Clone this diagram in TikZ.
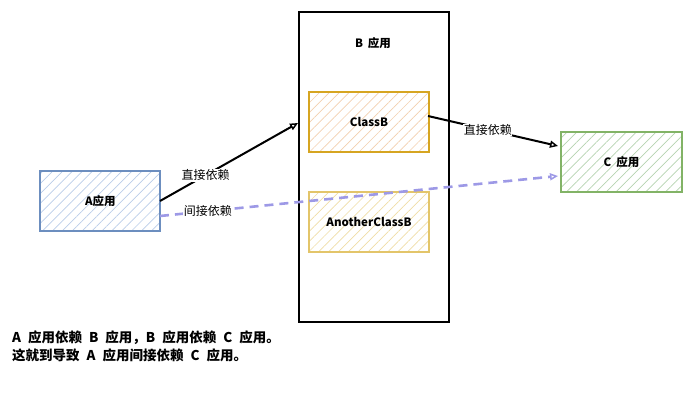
\documentclass[tikz,border=0pt]{standalone}
\usepackage{fontspec}
\setmainfont{Noto Sans CJK SC}
\usetikzlibrary{patterns.meta,arrows.meta}
\newcommand\gapx{\hspace{7pt}}
\tikzset{
  box/.style={draw, line width=2pt, minimum width=120pt, minimum height=60pt, inner sep=0pt, font=\bfseries\fontsize{11.5}{13}\selectfont},
  hatch/.style={pattern={Lines[angle=45,distance=7pt,line width=0.7pt]}, pattern color=#1},
  dep/.style={line width=2pt, -{Triangle[open,length=8pt,width=7pt,line width=1.5pt]}},
  lbl/.style={font=\fontsize{12}{14}\selectfont, fill=white, inner sep=1pt},
}
\definecolor{ablue}{HTML}{6C8EBF}
\definecolor{afill}{HTML}{B9CCE8}
\definecolor{borange}{HTML}{D6A521}
\definecolor{bfill}{HTML}{F2CFAE}
\definecolor{cgold}{HTML}{E3C56A}
\definecolor{cfill}{HTML}{EFDDA6}
\definecolor{cgreen}{HTML}{82B366}
\definecolor{gfill}{HTML}{B5D3B0}
\definecolor{dpurple}{HTML}{9D99E6}
\begin{document}
\begin{tikzpicture}[x=1pt,y=-1pt]
\useasboundingbox (0,0) rectangle (692,412);
\node[box, draw=black, line width=2.2pt, minimum width=150pt, minimum height=310pt, anchor=north west] (B) at (298,11) {};
\node[font=\bfseries\fontsize{11.5}{13}\selectfont] (Bt) at (373,43) {B\hspace{5pt}应用};
\node[box, draw=ablue, hatch=afill, anchor=north west] (A) at (40,171) {A应用};
\node[box, draw=borange, hatch=bfill, anchor=north west] (CB) at (308,91) {ClassB};
\node[box, draw=cgold, hatch=cfill, anchor=north west] (AC) at (308,191) {AnotherClassB};
\node[box, draw=cgreen, hatch=gfill, minimum width=121pt, anchor=north west] (C) at (560,131) {C\hspace{5pt}应用};
\coordinate (a1) at (160,201);
\coordinate (a2) at (160,216);
\coordinate (b1) at (298,123);
\coordinate (c1) at (428,116);
\coordinate (c2) at (558,146);
\coordinate (c3) at (558,176);
\draw[dep] (a1) -- node[lbl, pos=0.33] {直接依赖} (b1);
\draw[dep] (c1) -- node[lbl, pos=0.46, inner sep=0.5pt] {直接依赖} (c2);
\draw[dep, line width=2.6pt, draw=dpurple, dashed, dash pattern=on 9pt off 6pt] (a2) -- node[lbl, pos=0.12] {间接依赖} (c3);
\node[anchor=north west, align=left, font=\bfseries\fontsize{13.5}{17.5}\selectfont, inner sep=0pt] (T) at (12,331) {A\gapx 应用依赖\gapx B\gapx 应用，B\gapx 应用依赖\gapx C\gapx 应用。\\这就到导致\gapx A\gapx 应用间接依赖\gapx C\gapx 应用。};
\end{tikzpicture}
\end{document}
